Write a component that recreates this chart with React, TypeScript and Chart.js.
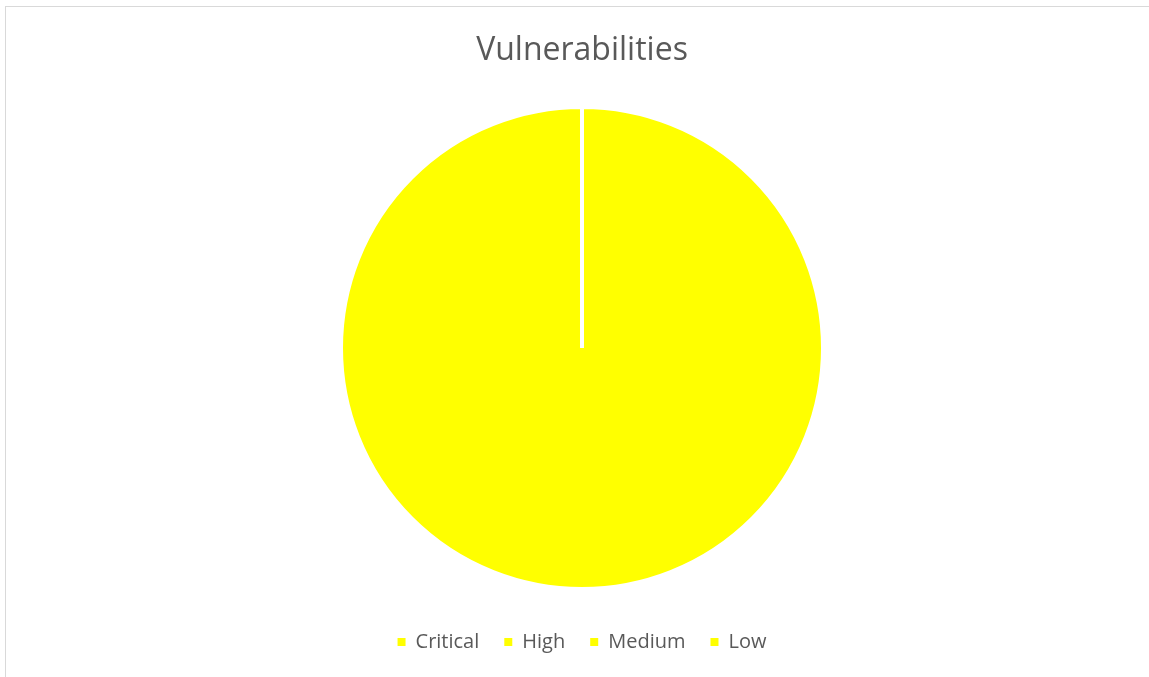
import React, { useEffect, useRef } from "react";
import { Chart, registerables } from "chart.js";

Chart.register(...registerables);

const chartTitle = "Vulnerabilities";
const categories = ["Critical", "High", "Medium", "Low"];
const counts = [0, 0, 0, 5];
const sliceColors = ["#FFFF00", "#FFFF00", "#FFFF00", "#FFFF00"];

export default function App() {
  const ref = useRef<HTMLCanvasElement>(null);
  useEffect(() => {
    const baseGenerate = (Chart as any).overrides.pie.plugins.legend.labels.generateLabels;
    const chart = new Chart(ref.current!, {
      type: "pie",
      data: {
        labels: categories,
        datasets: [
          {
            data: counts,
            backgroundColor: sliceColors,
            borderColor: "#ffffff",
            borderWidth: 4,
            radius: 241,
          } as any,
        ],
      },
      options: {
        animation: false,
        responsive: false,
        maintainAspectRatio: false,
        layout: { padding: { top: 0, bottom: 25, left: 0, right: 0 } },
        plugins: {
          title: {
            display: true,
            text: chartTitle,
            color: "#595959",
            font: { family: "Open Sans", size: 32, weight: "normal", lineHeight: 1.2 },
            padding: { top: 25, bottom: 18.6 },
          },
          legend: {
            position: "bottom",
            labels: {
              boxWidth: 8,
              boxHeight: 8,
              color: "#595959",
              font: { family: "Open Sans", size: 20 },
              padding: 25,
              generateLabels: (c: any) =>
                baseGenerate(c).map((it: any) => ({ ...it, lineWidth: 0, strokeStyle: "transparent" })),
            },
          },
          tooltip: { enabled: false },
        },
      },
    });
    return () => chart.destroy();
  }, []);
  return (
    <div style={{ position: "fixed", left: 0, top: 0, right: 0, bottom: 0, overflow: "hidden", background: "#fff" }}>
      <div
        style={{
          position: "absolute",
          left: 5,
          top: 6,
          width: 1153,
          height: 690,
          borderLeft: "1px solid #d9d9d9",
          borderTop: "1px solid #d9d9d9",
        }}
      >
        <canvas ref={ref} width={1152} height={680} style={{ display: "block" }} />
      </div>
    </div>
  );
}
